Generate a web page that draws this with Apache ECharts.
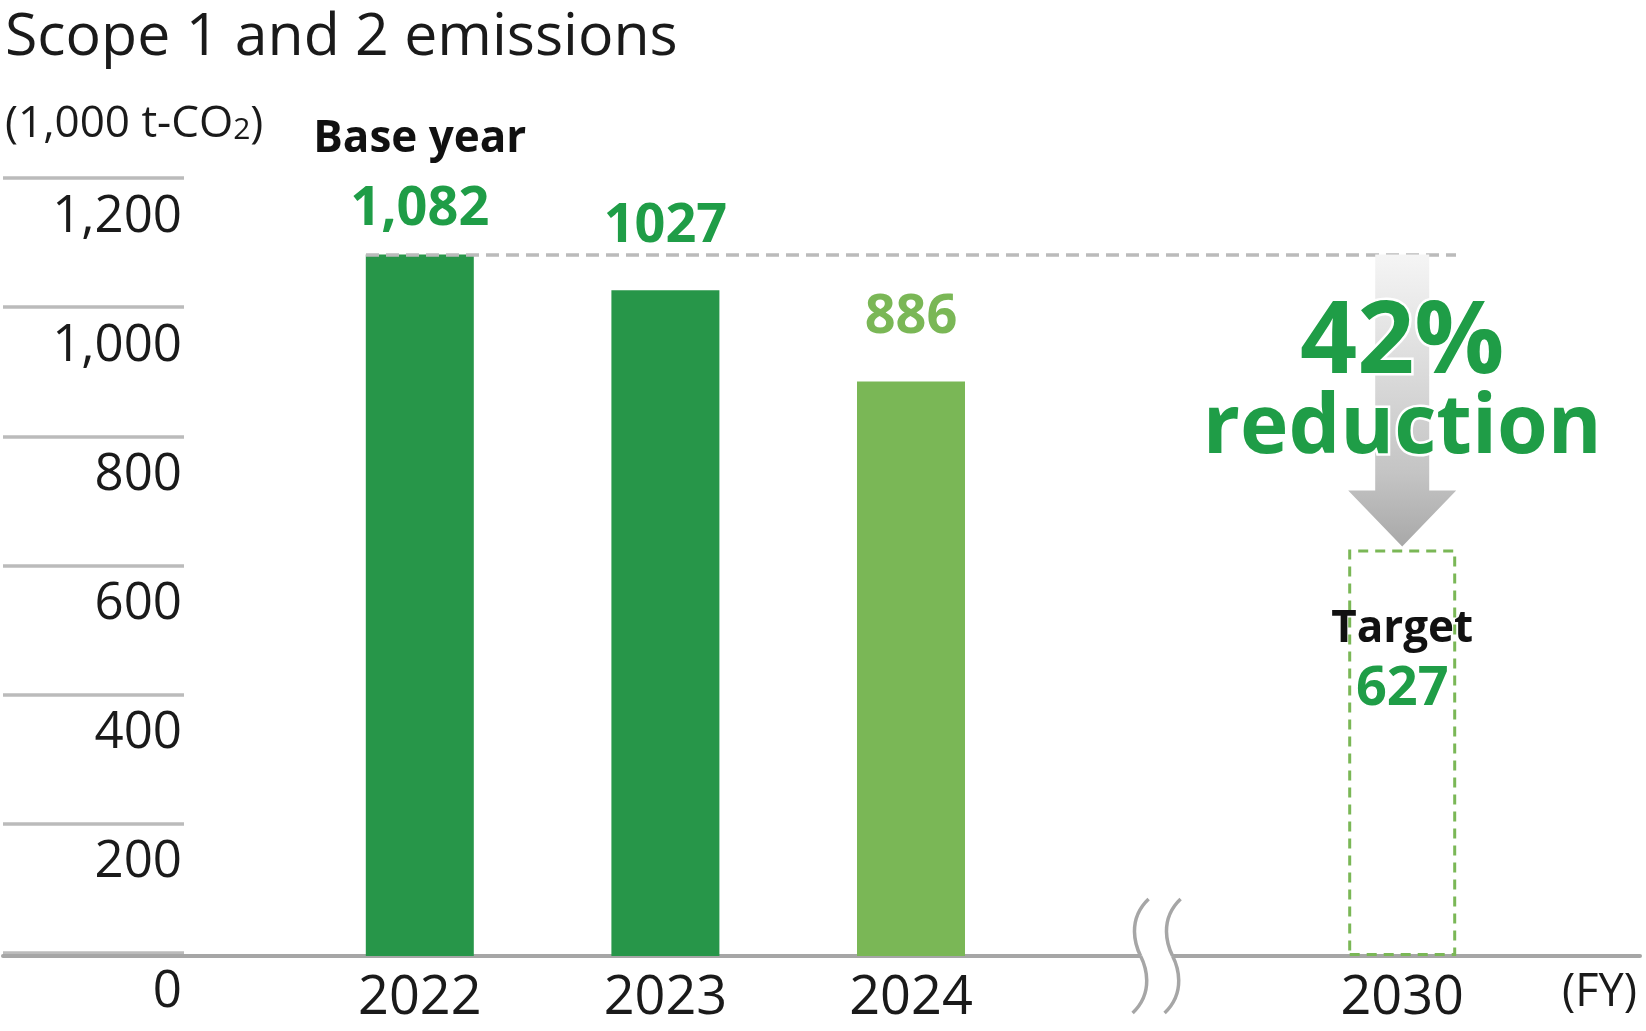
<!DOCTYPE html>
<html>
<head>
<meta charset="utf-8">
<script src="https://cdn.jsdelivr.net/npm/echarts@6/dist/echarts.min.js"></script>
<style>
html, body { margin: 0; padding: 0; background: #fff; }
#main { width: 1646px; height: 1031px; }
</style>
</head>
<body>
<div id="main"></div>
<script>
// data
var years = ['2022', '2023', '2024', '', '2030'];
var emissions = [1082, 1027, 886, null, 627];
var valueTexts = ['1,082', '1027', '886', '', '627'];
var baseValue = 1082;
var targetValue = 627;
var breakIndex = 3;
var targetIndex = 4;

var FONT = '"Open Sans", "Noto Sans", sans-serif';
var DARK = '#279649';
var LIGHT = '#7AB756';
var TEXT_GREEN = '#1F9D47';
var BAR_W = 108;

var chart = echarts.init(document.getElementById('main'));

var gridTop = 178, gridBottom = 75;

var barData = emissions.map(function (v, i) {
    if (v === null) return '-';
    var item = { value: v };
    if (i === targetIndex) {
        item.itemStyle = { color: 'rgba(0,0,0,0)', borderColor: LIGHT, borderWidth: 3, borderType: [10, 7] };
        item.label = {
            position: 'insideTop', distance: 48,
            formatter: '{t|Target}\n{v|' + valueTexts[i] + '}'
        };
    } else if (i === 0) {
        item.label = { distance: 17, formatter: '{b|Base year}\n{v|' + valueTexts[i] + '}' };
    } else {
        item.itemStyle = { color: i === 2 ? LIGHT : DARK };
        item.label = { distance: 36, formatter: '{' + (i === 2 ? 'l' : 'v') + '|' + valueTexts[i] + '}' };
    }
    return item;
});

var reductionPct = Math.round((1 - targetValue / baseValue) * 100) + '%';

var option = {
    animation: false,
    title: [{
        text: 'Scope 1 and 2 emissions',
        left: 0, top: 4,
        textStyle: { fontFamily: FONT, fontSize: 59, fontWeight: 'normal', color: '#1a1a1a' }
    }, {
        text: '{a|(1,000 t-CO}{s|2}{a|)}',
        left: 0, top: 97,
        textStyle: {
            fontWeight: 'normal',
            rich: {
                a: { fontFamily: FONT, fontSize: 44, fontWeight: 'normal', color: '#1a1a1a' },
                s: { fontFamily: FONT, fontSize: 30, fontWeight: 'normal', color: '#1a1a1a', padding: [13, 0, 0, 0] }
            }
        }
    }],
    grid: [
        { left: 3, width: 181, top: gridTop, bottom: gridBottom },
        { left: 297, width: 1228, top: gridTop, bottom: gridBottom },
        { left: 3, right: 6, top: gridTop, bottom: gridBottom }
    ],
    xAxis: [
        { gridIndex: 0, type: 'value', show: false },
        {
            gridIndex: 1, type: 'category', data: years,
            axisLine: { show: false }, axisTick: { show: false },
            axisLabel: { margin: 16, fontFamily: FONT, fontSize: 54, color: '#1a1a1a' }
        },
        {
            gridIndex: 2, type: 'value', min: 0, max: 1,
            axisLine: { show: true, lineStyle: { color: '#A6A6A6', width: 4 } },
            axisTick: { show: false }, axisLabel: { show: false }, splitLine: { show: false },
            name: '(FY)', nameLocation: 'end', nameGap: 0,
            nameTextStyle: { fontFamily: FONT, fontSize: 45, color: '#1a1a1a', align: 'right', verticalAlign: 'top', padding: [15, 3, 0, 0] }
        }
    ],
    yAxis: [
        {
            gridIndex: 0, type: 'value', min: 0, max: 1200, interval: 200,
            axisLine: { show: false }, axisTick: { show: false },
            splitLine: { lineStyle: { color: '#BBBBBB', width: 3.5 } },
            axisLabel: {
                inside: true, margin: 179, align: 'right', verticalAlign: 'top',
                lineHeight: 78,
                fontFamily: FONT, fontSize: 51, color: '#1a1a1a',
                formatter: function (v) { return v.toLocaleString('en-US'); }
            }
        },
        { gridIndex: 1, type: 'value', min: 0, max: 1200, interval: 200, show: false },
        { gridIndex: 2, type: 'value', min: 0, max: 1200, show: false }
    ],
    series: [{
        type: 'bar',
        xAxisIndex: 1, yAxisIndex: 1,
        barWidth: BAR_W,
        itemStyle: { color: DARK },
        label: {
            show: true, position: 'top',
            rich: {
                b: { fontFamily: FONT, fontSize: 44, fontWeight: 'bold', color: '#111', lineHeight: 84 },
                v: { fontFamily: FONT, fontSize: 54, fontWeight: 'bold', color: TEXT_GREEN, lineHeight: 56 },
                l: { fontFamily: FONT, fontSize: 54, fontWeight: 'bold', color: LIGHT, lineHeight: 56 },
                t: { fontFamily: FONT, fontSize: 44, fontWeight: 'bold', color: '#111', lineHeight: 64 }
            }
        },
        markLine: {
            silent: true, symbol: 'none', label: { show: false },
            lineStyle: { color: '#BBBBBB', width: 3.5, type: [13, 7] },
            data: [[{ coord: [0, baseValue], x: 366 }, { coord: [targetIndex, baseValue], x: 1456 }]]
        },
        data: barData
    }, {
        // arrow from base year level down to the target
        type: 'custom',
        xAxisIndex: 1, yAxisIndex: 1,
        z: 5,
        silent: true,
        data: [[targetIndex, baseValue, targetValue]],
        renderItem: function (params, api) {
            var top = api.coord([api.value(0), api.value(1)]);
            var tip = api.coord([api.value(0), api.value(2)]);
            var x = top[0];
            var hw = BAR_W / 2, sw = BAR_W / 4, hh = 56;
            var y0 = top[1], y1 = tip[1] - 3;
            return {
                type: 'group',
                children: [{
                    type: 'polygon',
                    shape: { points: [[x - sw, y0], [x + sw, y0], [x + sw, y1 - hh], [x + hw, y1 - hh], [x, y1], [x - hw, y1 - hh], [x - sw, y1 - hh]] },
                    style: {
                        fill: new echarts.graphic.LinearGradient(0, 0, 0, 1, [
                            { offset: 0, color: '#F5F5F5' },
                            { offset: 0.75, color: '#C4C4C4' },
                            { offset: 1, color: '#A8A8A8' }
                        ])
                    }
                }, {
                    type: 'text',
                    style: {
                        text: reductionPct, x: x, y: y0 + 90, align: 'center', verticalAlign: 'middle',
                        font: 'bold 100px ' + FONT, fill: TEXT_GREEN, stroke: '#fff', lineWidth: 5, strokeFirst: true
                    }
                }, {
                    type: 'text',
                    style: {
                        text: 'reduction', x: x, y: y0 + 175, align: 'center', verticalAlign: 'middle',
                        font: 'bold 82px ' + FONT, fill: TEXT_GREEN, stroke: '#fff', lineWidth: 5, strokeFirst: true
                    }
                }]
            };
        }
    }, {
        // axis break mark
        type: 'custom',
        xAxisIndex: 1, yAxisIndex: 1,
        z: 5,
        silent: true,
        data: [[breakIndex, 0]],
        renderItem: function (params, api) {
            var c = api.coord([api.value(0), api.value(1)]);
            var kids = [{
                type: 'rect',
                shape: { x: c[0] - 16, y: c[1] - 5, width: 32, height: 10 },
                style: { fill: '#fff' }
            }];
            [-16, 16].forEach(function (dx) {
                var m = c[0] + dx, y = c[1];
                var st = { stroke: '#A6A6A6', lineWidth: 3.5, fill: null };
                kids.push({
                    type: 'bezierCurve',
                    shape: { x1: m + 8, y1: y - 57, cpx1: m - 14, cpy1: y - 36, cpx2: m - 5, cpy2: y - 10, x2: m, y2: y },
                    style: st
                });
                kids.push({
                    type: 'bezierCurve',
                    shape: { x1: m, y1: y, cpx1: m + 5, cpy1: y + 10, cpx2: m + 14, cpy2: y + 36, x2: m - 8, y2: y + 57 },
                    style: st
                });
            });
            return { type: 'group', children: kids };
        }
    }]
};

chart.setOption(option);
</script>
</body>
</html>
